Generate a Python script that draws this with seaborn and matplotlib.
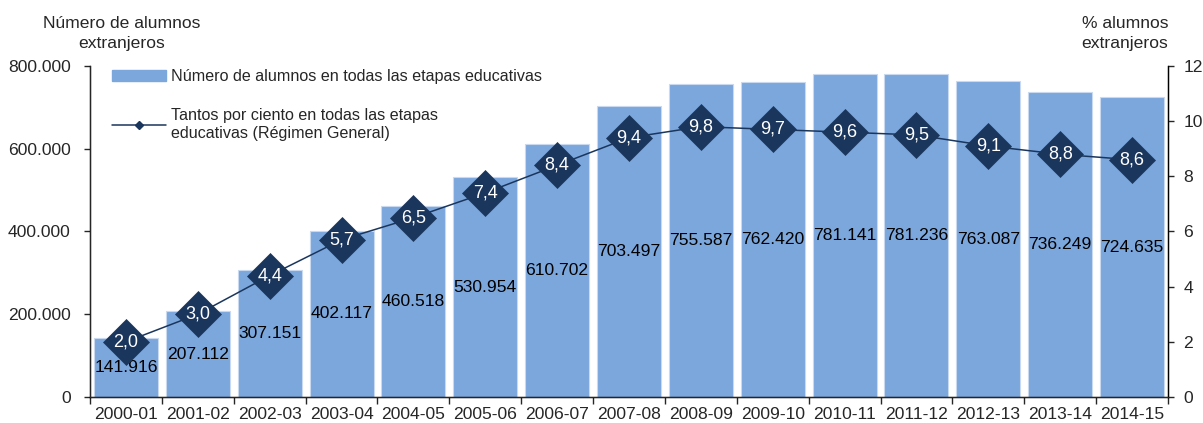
import pandas as pd
import seaborn as sns
import matplotlib.pyplot as plt
from matplotlib.lines import Line2D
from matplotlib.patches import Patch
from matplotlib.ticker import FuncFormatter, FixedLocator

sns.set_style("white")
plt.rcParams["font.family"] = ["Liberation Sans", "DejaVu Sans"]

# data
cursos = ["2000-01", "2001-02", "2002-03", "2003-04", "2004-05", "2005-06", "2006-07",
          "2007-08", "2008-09", "2009-10", "2010-11", "2011-12", "2012-13", "2013-14", "2014-15"]
alumnos = [141916, 207112, 307151, 402117, 460518, 530954, 610702,
           703497, 755587, 762420, 781141, 781236, 763087, 736249, 724635]
porcentaje = [2.0, 3.0, 4.4, 5.7, 6.5, 7.4, 8.4, 9.4, 9.8, 9.7, 9.6, 9.5, 9.1, 8.8, 8.6]

df = pd.DataFrame({"curso": cursos, "alumnos": alumnos, "pct": porcentaje})

bar_color = "#7BA7DD"
navy = "#1B365D"
fs = 12.6

fig = plt.figure(figsize=(12.03, 4.23), dpi=100)
ax = fig.add_axes([0.0748, 0.0615, 0.8961, 0.7825])

sns.barplot(data=df, x="curso", y="alumnos", color=bar_color, width=0.89,
            saturation=1, edgecolor="#C9DAF0", linewidth=0.8, ax=ax)

# labels centred inside bars
for i, v in enumerate(alumnos):
    ax.text(i, v / 2, f"{v:,}".replace(",", "."), ha="center", va="center",
            fontsize=fs, color="black")

ax.set_ylim(0, 800000)
ax.set_xlim(-0.5, len(cursos) - 0.5)
ax.set_yticks([0, 200000, 400000, 600000, 800000])
ax.yaxis.set_major_formatter(FuncFormatter(lambda v, p: f"{int(v):,}".replace(",", ".")))
ax.set_xlabel("")
ax.set_ylabel("")
ax.tick_params(axis="y", left=True, direction="out", length=4, width=1, labelsize=fs, pad=10)
ax.tick_params(axis="x", which="major", length=0, labelsize=fs, pad=7)
ax.xaxis.set_minor_locator(FixedLocator([i - 0.5 for i in range(len(cursos) + 1)]))
ax.tick_params(axis="x", which="minor", bottom=True, direction="out", length=5, width=1)
ax.spines["top"].set_visible(False)
for s in ["left", "bottom", "right"]:
    ax.spines[s].set_color("black")
    ax.spines[s].set_linewidth(1)

ax2 = ax.twinx()
sns.pointplot(data=df, x="curso", y="pct", color=navy, markers="D", markersize=23,
              linewidth=1.1, ax=ax2)
ax2.lines[0].set_markeredgecolor(navy)
ax2.lines[0].set_markeredgewidth(0.5)
for i, v in enumerate(porcentaje):
    ax2.text(i, v, f"{v:.1f}".replace(".", ","), ha="center", va="center",
             fontsize=13, color="white", zorder=10)
ax2.set_ylim(0, 12)
ax2.set_xlim(-0.5, len(cursos) - 0.5)
ax2.set_yticks([0, 2, 4, 6, 8, 10, 12])
ax2.set_ylabel("")
ax2.set_xlabel("")
ax2.tick_params(axis="y", right=True, direction="out", length=4, width=1, labelsize=fs, pad=7)
ax2.spines["top"].set_visible(False)
ax2.spines["right"].set_color("black")

fig.text(0.101, 0.92, "Número de alumnos\nextranjeros", ha="center", va="center",
         fontsize=fs, linespacing=1.4)
fig.text(0.971, 0.92, "% alumnos\nextranjeros", ha="right", va="center",
         fontsize=fs, linespacing=1.4)

handles = [Patch(facecolor=bar_color, edgecolor=bar_color),
           Line2D([0], [0], color=navy, lw=1.1, marker="D", markersize=4)]
labels = ["Número de alumnos en todas las etapas educativas",
          "Tantos por ciento en todas las etapas\neducativas (Régimen General)"]
ax2.legend(handles, labels, loc="upper left", bbox_to_anchor=(0.011, 1.02), frameon=False,
           fontsize=11.6, handlelength=3.4, handletextpad=0.3, labelspacing=1.5,
           borderaxespad=0.2)

fig.savefig("out.png", dpi=100)
